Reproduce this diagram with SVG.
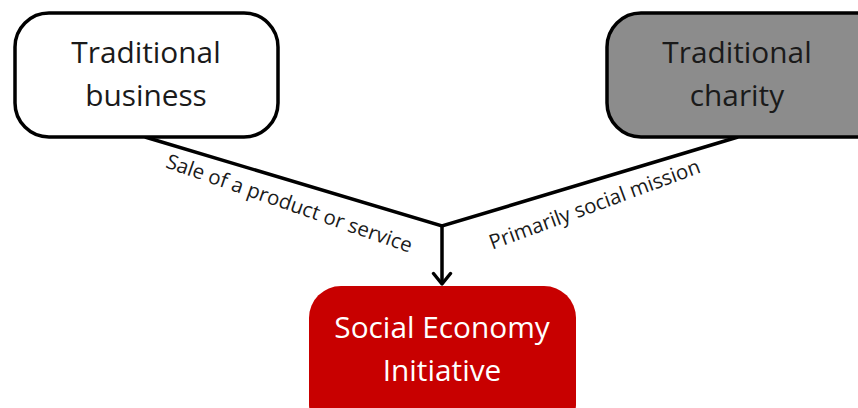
<svg xmlns="http://www.w3.org/2000/svg" width="858" height="408" viewBox="0 0 858 408">
<defs>
<style>
.box{stroke:#000;stroke-width:3.5}
.t{font-family:"Open Sans","Noto Sans",sans-serif;font-size:29.8px;text-anchor:middle;fill:#1a1a1a}
.lbl{font-family:"Open Sans","Noto Sans",sans-serif;font-size:20.5px;text-anchor:middle;fill:#1a1a1a}
.c{stroke:#000;stroke-width:3.5;fill:none}
</style>
<marker id="ah" viewBox="0 0 16 22" refX="14" refY="11" markerWidth="16" markerHeight="22" markerUnits="userSpaceOnUse" orient="auto">
<path d="M3.5,2.5 L14,11 L3.5,19.5" fill="none" stroke="#000" stroke-width="3.4" stroke-linecap="round" stroke-linejoin="round"/>
</marker>
</defs>
<rect width="858" height="408" fill="#fff"/>
<g id="connectors">
<polyline class="c" points="145,137 442,226 738,137"/>
<line class="c" x1="442" y1="226" x2="442" y2="284" marker-end="url(#ah)"/>
<text class="lbl" transform="translate(287,210) rotate(19.3)">Sale of a product or service</text>
<text class="lbl" transform="translate(597,211) rotate(-20.3)">Primarily social mission</text>
</g>
<g id="traditional-business">
<rect class="box" x="15" y="13" width="263" height="124" rx="34" fill="#fff"/>
<text class="t" x="146" y="63">Traditional</text>
<text class="t" x="146" y="106">business</text>
</g>
<g id="traditional-charity">
<rect class="box" x="607" y="13" width="290" height="124" rx="34" fill="#8c8c8c"/>
<text class="t" x="737" y="63">Traditional</text>
<text class="t" x="737" y="106">charity</text>
</g>
<g id="social-economy-initiative">
<rect x="309" y="286" width="267" height="150" rx="32" fill="#c80000"/>
<text class="t" x="442" y="338" style="fill:#fff">Social Economy</text>
<text class="t" x="442" y="381" style="fill:#fff">Initiative</text>
</g>
</svg>
